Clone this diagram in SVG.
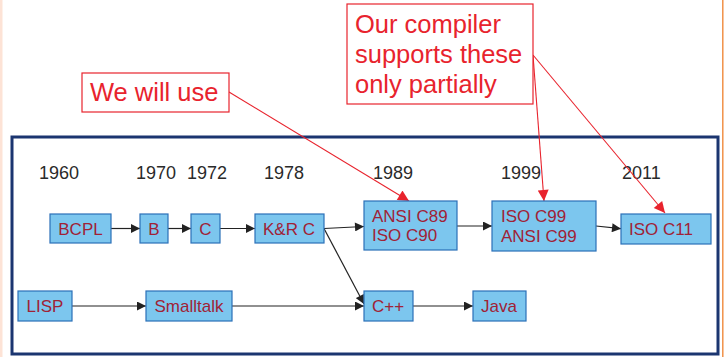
<svg xmlns="http://www.w3.org/2000/svg" width="724" height="357" viewBox="0 0 724 357">
  <style>
    .node rect { fill: #7cc6ee; stroke: #2b70b8; stroke-width: 1.2; }
    .node text { font-family: "Liberation Sans", Arial, sans-serif; font-size: 17px; fill: #a02236; }
    .year { font-family: "Liberation Sans", Arial, sans-serif; font-size: 18px; fill: #2a2a2a; }
    .note rect { fill: #ffffff; stroke: #e8232d; stroke-width: 1.2; }
    .note text { font-family: "Liberation Sans", Arial, sans-serif; font-size: 25.5px; fill: #e8232d; }
    .link { stroke: #222222; stroke-width: 1.2; fill: none; marker-end: url(#arrow); }
    .pointer { stroke: #e8232d; stroke-width: 1.1; fill: none; marker-end: url(#arrowRed); }
  </style>
  <defs>
    <marker id="arrow" viewBox="0 0 10 10" refX="10" refY="5" markerWidth="10" markerHeight="9" markerUnits="userSpaceOnUse" orient="auto">
      <path d="M0,0 L10,5 L0,10 Z" fill="#222222"/>
    </marker>
    <marker id="arrowRed" viewBox="0 0 10 10" refX="10" refY="5" markerWidth="13" markerHeight="11" markerUnits="userSpaceOnUse" orient="auto">
      <path d="M0,0 L10,5 L0,10 Z" fill="#e8232d"/>
    </marker>
  </defs>

  <!-- page background and slide edges -->
  <rect x="0" y="0" width="724" height="357" fill="#ffffff"/>
  <rect x="0" y="0" width="2.5" height="357" fill="#fde3d6"/>
  <line x1="722.8" y1="0" x2="722.8" y2="357" stroke="#f08a3c" stroke-width="1.4"/>

  <!-- timeline frame -->
  <rect x="12" y="137" width="706" height="217" fill="#ffffff" stroke="#1b3570" stroke-width="3"/>

  <!-- years -->
  <g id="years">
    <text class="year" x="39" y="179">1960</text>
    <text class="year" x="136" y="179">1970</text>
    <text class="year" x="187" y="179">1972</text>
    <text class="year" x="264" y="179">1978</text>
    <text class="year" x="373" y="179">1989</text>
    <text class="year" x="501" y="179">1999</text>
    <text class="year" x="622" y="179">2011</text>
  </g>

  <!-- connectors -->
  <g id="connectors">
    <line class="link" x1="111" y1="228.5" x2="140" y2="228.5"/>
    <line class="link" x1="168" y1="228.5" x2="191" y2="228.5"/>
    <line class="link" x1="220" y1="228.5" x2="255" y2="228.5"/>
    <line class="link" x1="324" y1="228.5" x2="364" y2="226.5"/>
    <line class="link" x1="324" y1="228.5" x2="364" y2="304"/>
    <line class="link" x1="72" y1="306" x2="146" y2="306"/>
    <line class="link" x1="232" y1="306" x2="364" y2="306"/>
    <line class="link" x1="413" y1="306" x2="473" y2="306"/>
    <line class="link" x1="457" y1="226" x2="492" y2="226"/>
    <line class="link" x1="596" y1="226" x2="621" y2="228.7"/>
    <line class="pointer" x1="229" y1="92" x2="409" y2="201"/>
    <line class="pointer" x1="533" y1="55" x2="544" y2="201"/>
    <line class="pointer" x1="533" y1="55" x2="665" y2="213"/>
  </g>

  <!-- language nodes -->
  <g id="bcpl" class="node">
    <rect x="50" y="214" width="61" height="29"/>
    <text x="80.5" y="235" text-anchor="middle">BCPL</text>
  </g>
  <g id="b" class="node">
    <rect x="140" y="214" width="28" height="29"/>
    <text x="154" y="235" text-anchor="middle">B</text>
  </g>
  <g id="c" class="node">
    <rect x="191" y="214" width="29" height="29"/>
    <text x="205.5" y="235" text-anchor="middle">C</text>
  </g>
  <g id="kr-c" class="node">
    <rect x="255" y="214" width="69" height="29"/>
    <text x="289" y="235" text-anchor="middle">K&amp;R C</text>
  </g>
  <g id="ansi-c89" class="node">
    <rect x="364" y="201" width="93" height="49"/>
    <text x="372" y="221.5">ANSI C89</text>
    <text x="372" y="241">ISO C90</text>
  </g>
  <g id="iso-c99" class="node">
    <rect x="492" y="201" width="104" height="50"/>
    <text x="501" y="222">ISO C99</text>
    <text x="501" y="241.5">ANSI C99</text>
  </g>
  <g id="iso-c11" class="node">
    <rect x="621" y="214" width="90" height="30"/>
    <text x="629" y="235">ISO C11</text>
  </g>
  <g id="lisp" class="node">
    <rect x="18" y="291" width="54" height="30"/>
    <text x="45" y="311.5" text-anchor="middle">LISP</text>
  </g>
  <g id="smalltalk" class="node">
    <rect x="146" y="291" width="86" height="30"/>
    <text x="189" y="311.5" text-anchor="middle">Smalltalk</text>
  </g>
  <g id="cpp" class="node">
    <rect x="364" y="291" width="49" height="30"/>
    <text x="372" y="311.5">C++</text>
  </g>
  <g id="java" class="node">
    <rect x="473" y="291" width="53" height="30"/>
    <text x="481" y="311.5">Java</text>
  </g>

  <!-- callouts -->
  <g id="note-use" class="note">
    <rect x="82" y="73" width="147" height="39"/>
    <text x="90" y="101">We will use</text>
  </g>
  <g id="note-partial" class="note">
    <rect x="347" y="4" width="186" height="100"/>
    <text x="355" y="33">Our compiler</text>
    <text x="355" y="63">supports these</text>
    <text x="355" y="93">only partially</text>
  </g>
</svg>
